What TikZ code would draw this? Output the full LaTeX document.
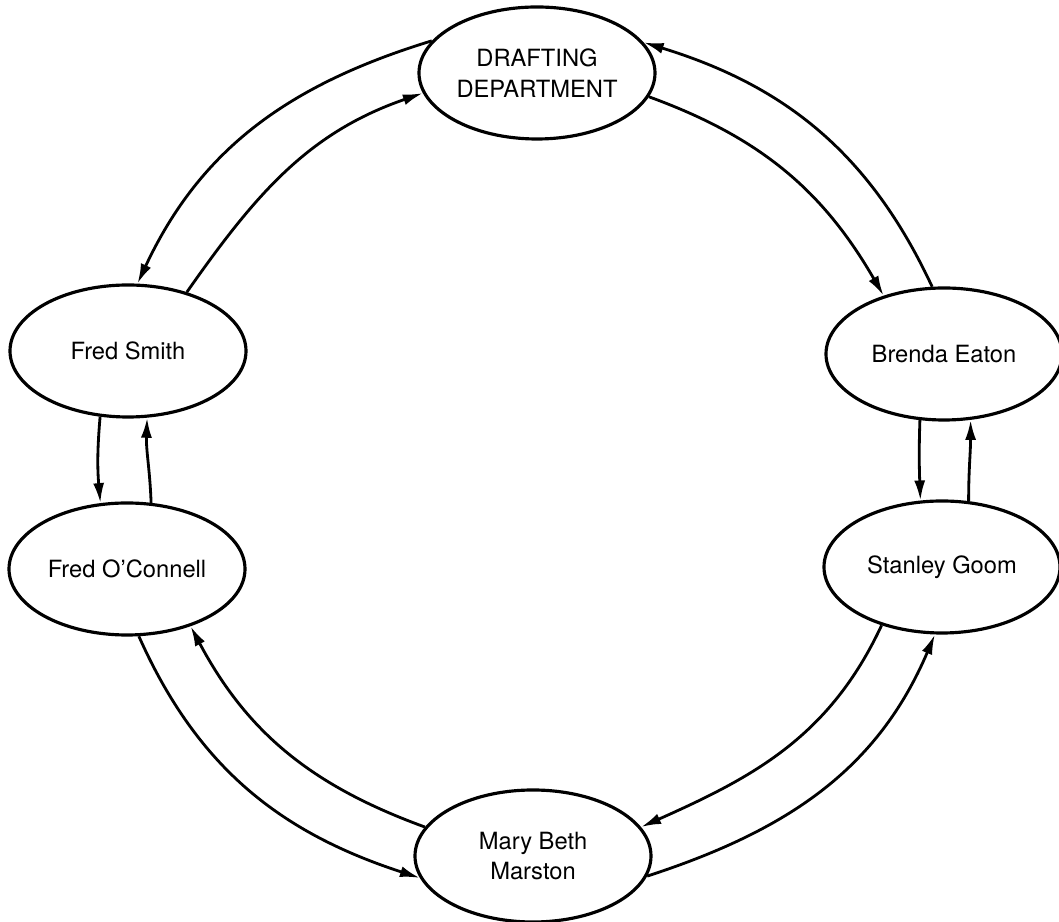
\documentclass[tikz,border=0pt]{standalone}
\usepackage{fontspec}
\setmainfont{TeX Gyre Heros}
\usetikzlibrary{shapes.geometric,arrows.meta}

\begin{document}
\begin{tikzpicture}[x=1cm, y=1cm,
        person/.style={draw, ellipse, line width=1.8pt, minimum width=4.72cm, minimum height=2.64cm, inner sep=0pt, align=center, font=\fontsize{13.5}{17.6}\selectfont},
        flow/.style={line width=1.6pt, -{Latex[length=4mm,width=2.2mm]}}]
        \useasboundingbox (0,0) rectangle (21.18,18.44);
        \node[person] (dept) at (10.74,16.98) {DRAFTING\\DEPARTMENT};
        \node[person] (smith) at (2.56,11.42) {Fred Smith};
        \node[person] (eaton) at (18.88,11.36) {Brenda Eaton};
        \node[person] (oconnell) at (2.54,7.06) {Fred O’Connell};
        \node[person] (goom) at (18.84,7.10) {Stanley Goom};
        \node[person] (marston) at (10.66,1.32) {Mary Beth\\Marston};
        \draw[flow] (dept.163) to[out=197, in=65] (smith.82);
        \draw[flow] (smith.45) to[out=55, in=199] (dept.190);
        \draw[flow] (eaton.100) to[out=115, in=-17] (dept.16);
        \draw[flow] (dept.348) to[out=-20, in=120] (eaton.136);
        \draw[flow] (smith.247) to[out=265, in=95] (oconnell.112);
        \draw[flow] (oconnell.70) to[out=92, in=268] (smith.286);
        \draw[flow] (eaton.250) to[out=268, in=92] (goom.108);
        \draw[flow] (goom.68) to[out=90, in=270] (eaton.292);
        \draw[flow] (oconnell.280) to[out=-66, in=162] (marston.191);
        \draw[flow] (marston.165) to[out=160, in=-62] (oconnell.318);
        \draw[flow] (goom.224) to[out=245, in=24] (marston.15);
        \draw[flow] (marston.350) to[out=18, in=247] (goom.264);
\end{tikzpicture}
\end{document}
